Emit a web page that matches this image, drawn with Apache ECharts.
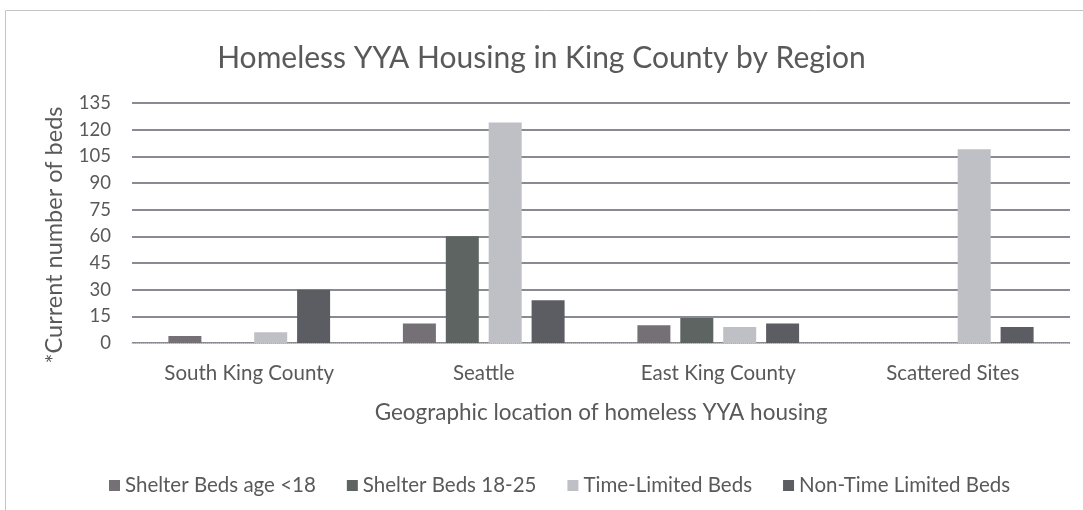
<!DOCTYPE html>
<html><head><meta charset="utf-8">
<script src="https://cdn.jsdelivr.net/npm/echarts@6/dist/echarts.min.js"></script>
<style>html,body{margin:0;padding:0;background:#fff}#c{width:1083px;height:510px}</style>
</head><body><div id="c"></div>
<script>
const categories = ['South King County', 'Seattle', 'East King County', 'Scattered Sites'];
const seriesNames = ['Shelter Beds age <18', 'Shelter Beds 18-25', 'Time-Limited Beds', 'Non-Time Limited Beds'];
const shelterUnder18 = [4, 11, 10, 0];
const shelter18to25 = [0, 60, 14, 0];
const timeLimited = [6, 124, 9, 109];
const nonTimeLimited = [30, 24, 11, 9];
const yTicks = { min: 0, max: 135, interval: 15 };

const colors = ['#757075', '#5e6461', '#bfc0c6', '#5c5c63'];
const values = [shelterUnder18, shelter18to25, timeLimited, nonTimeLimited];
const font = 'Lato, "Open Sans", sans-serif';
const txt = '#595959';

const chart = echarts.init(document.getElementById('c'));
chart.setOption({
  animation: false,
  textStyle: { fontFamily: font, color: txt },
  graphic: [{ type: 'rect', shape: { x: 5.5, y: 10.5, width: 1100, height: 520 },
    style: { fill: 'none', stroke: '#c4c4c4', lineWidth: 1 }, silent: true }],
  title: { text: 'Homeless YYA Housing in King County by Region', left: 'center', top: 38,
    textStyle: { fontFamily: font, fontSize: 30, fontWeight: 'normal', color: txt } },
  legend: {
    data: seriesNames, left: 104, top: 470, itemWidth: 11, itemHeight: 11, itemGap: 31,
    icon: 'rect', textStyle: { fontFamily: font, fontSize: 20.5, color: txt }
  },
  grid: { left: 132, right: 13, top: 103, bottom: 167 },
  xAxis: {
    type: 'category', data: categories,
    name: 'Geographic location of homeless YYA housing', nameLocation: 'middle', nameGap: 58,
    nameTextStyle: { fontFamily: font, fontSize: 22.5, color: txt },
    axisLine: { lineStyle: { color: '#c8c8c8', type: 'dotted' } },
    axisTick: { show: false },
    axisLabel: { fontFamily: font, fontSize: 20.5, color: txt, margin: 20 }
  },
  yAxis: {
    type: 'value', min: yTicks.min, max: yTicks.max, interval: yTicks.interval,
    name: '*Current number of beds', nameLocation: 'middle', nameGap: 66,
    nameTextStyle: { fontFamily: font, fontSize: 23.5, color: txt, padding: [0, 24, 0, 0] },
    axisLine: { show: false }, axisTick: { show: false },
    axisLabel: { fontFamily: font, fontSize: 18.5, color: txt, margin: 21 },
    splitLine: { lineStyle: { color: '#63636f', width: 1.5 } }
  },
  series: seriesNames.map((n, i) => ({
    name: n, type: 'bar', data: values[i], barWidth: 33, barGap: '30%',
    itemStyle: { color: colors[i] }
  }))
});
</script></body></html>
